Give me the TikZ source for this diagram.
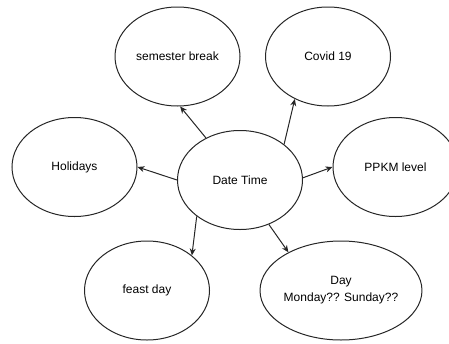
\documentclass[tikz,border=0pt]{standalone}
\usepackage{fontspec}
\setmainfont{Liberation Sans}
\usetikzlibrary{shapes.geometric,arrows.meta}
\begin{document}
\begin{tikzpicture}[x=1pt,y=-1pt,
  bubble/.style={ellipse,draw=black!85,line width=1pt,inner sep=0pt,
    minimum width=125pt,minimum height=99pt,align=center,
    font=\fontsize{12}{17}\selectfont},
  link/.style={draw=black!85,line width=1pt,-{Stealth[length=7pt,width=6pt]}}]
\useasboundingbox (0,0) rectangle (449,343);
\node[bubble] (dt) at (240,180) {Date Time};
\node[bubble] (sb) at (177.5,56.5) {semester break};
\node[bubble] (cv) at (328,56.5) {Covid 19};
\node[bubble] (hol) at (74.5,167) {Holidays};
\node[bubble] (pp) at (395.5,167) {PPKM level};
\node[bubble] (fd) at (147,290.5) {feast day};
\node[bubble,minimum width=140pt] (day) at (341,290.5) {Day\\Monday?? Sunday??};
\draw[link] (dt.129) -- (sb.-87);
\draw[link] (dt.39) -- (cv.-128);
\draw[link] (dt.180) -- (hol.0);
\draw[link] (dt.2) -- (pp.180);
\draw[link] (dt.-140) -- (fd.38);
\draw[link] (dt.-57) -- (day.144);
\end{tikzpicture}
\end{document}
